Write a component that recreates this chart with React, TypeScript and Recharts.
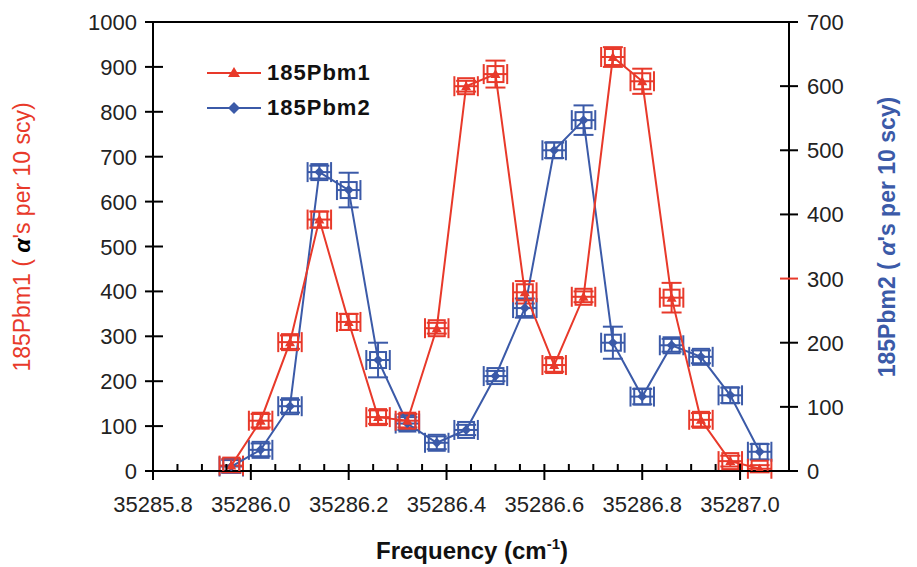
import React from "react";
import {
  ScatterChart,
  Scatter,
  XAxis,
  YAxis,
  ErrorBar,
  ReferenceLine,
  Legend,
} from "recharts";

// ---- data ----
const frequencies = [
  35285.96, 35286.02, 35286.08, 35286.14, 35286.2, 35286.26, 35286.32, 35286.38,
  35286.44, 35286.5, 35286.56, 35286.62, 35286.68, 35286.74, 35286.8, 35286.86,
  35286.92, 35286.98, 35287.04,
];
const pbm1Counts = [12, 112, 287, 560, 332, 120, 112, 318, 857, 884, 398, 236, 388, 922, 868, 386, 114, 22, 5];
const pbm1Errors = [15, 15, 15, 18, 18, 15, 15, 12, 12, 30, 25, 15, 12, 22, 28, 33, 15, 12, 8];
const pbm2Counts = [7, 33, 101, 466, 438, 173, 74, 44, 64, 148, 254, 500, 547, 200, 116, 196, 178, 118, 30];
const pbm2Errors = [10, 10, 10, 10, 27, 27, 10, 10, 8, 8, 15, 12, 23, 25, 12, 10, 10, 12, 12];
const freqErrors = [
  0.024, 0.024, 0.024, 0.024, 0.024, 0.024, 0.024, 0.024, 0.024, 0.024, 0.024, 0.024,
  0.024, 0.024, 0.024, 0.024, 0.024, 0.024, 0.024,
];

const xMajorTicks = [35285.8, 35286.0, 35286.2, 35286.4, 35286.6, 35286.8, 35287.0];
const xTickLabels = ["35285.8", "35286.0", "35286.2", "35286.4", "35286.6", "35286.8", "35287.0"];
const xMinorTicks = [
  35285.85, 35285.9, 35285.95, 35286.05, 35286.1, 35286.15, 35286.25, 35286.3, 35286.35,
  35286.45, 35286.5, 35286.55, 35286.65, 35286.7, 35286.75, 35286.85, 35286.9, 35286.95,
];
const leftTicks = [0, 100, 200, 300, 400, 500, 600, 700, 800, 900, 1000];
const rightTicks = [0, 100, 200, 300, 400, 500, 600, 700];

const seriesNames = ["185Pbm1", "185Pbm2"];

const RED = "#e8392a";
const BLUE = "#3b5aa8";
const TEXT = "#222222";
const FONT = "'Liberation Sans', Arial, sans-serif";

const pbm1Data = frequencies.map((x, i) => ({ x, y: pbm1Counts[i], ey: pbm1Errors[i], ex: freqErrors[i] }));
const pbm2Data = frequencies.map((x, i) => ({ x, y: pbm2Counts[i], ey: pbm2Errors[i], ex: freqErrors[i] }));
const xTicks = [...xMajorTicks, ...xMinorTicks].sort((a, b) => a - b);

// ---- shapes ----
const RedMarker = (props: any) => {
  const { cx, cy } = props;
  if (cx == null || cy == null) return null;
  return (
    <g>
      <rect x={cx - 8} y={cy - 8} width={16} height={16} fill="none" stroke={RED} strokeWidth={2} />
      <polygon points={`${cx},${cy - 5} ${cx + 5},${cy + 4} ${cx - 5},${cy + 4}`} fill={RED} />
    </g>
  );
};

const BlueMarker = (props: any) => {
  const { cx, cy } = props;
  if (cx == null || cy == null) return null;
  return (
    <g>
      <rect x={cx - 8} y={cy - 8} width={16} height={16} fill="none" stroke={BLUE} strokeWidth={2} />
      <polygon points={`${cx},${cy - 5} ${cx + 5},${cy} ${cx},${cy + 5} ${cx - 5},${cy}`} fill={BLUE} />
    </g>
  );
};

const XTick = (props: any) => {
  const { x, y, payload } = props;
  const v = payload.value;
  const idx = xMajorTicks.findIndex((t) => Math.abs(t - v) < 1e-6);
  if (idx < 0) {
    return <line x1={x} x2={x} y1={y - 7} y2={y} stroke="#000" strokeWidth={2} />;
  }
  return (
    <g>
      <line x1={x} x2={x} y1={y - 7} y2={y + 9} stroke="#000" strokeWidth={2} />
      <text x={x} y={y + 41} textAnchor="middle" fontSize={22} fill={TEXT} fontFamily={FONT}>
        {xTickLabels[idx]}
      </text>
    </g>
  );
};

const LeftTick = (props: any) => {
  const { x, y, payload } = props;
  return (
    <g>
      <line x1={x - 8} x2={x + 10} y1={y} y2={y} stroke="#000" strokeWidth={2} />
      <text x={x - 16} y={y + 8} textAnchor="end" fontSize={22} fill={TEXT} fontFamily={FONT}>
        {payload.value}
      </text>
    </g>
  );
};

const RightTick = (props: any) => {
  const { x, y, payload } = props;
  const accent = payload.value === 300;
  return (
    <g>
      <line x1={x - 9} x2={x + 9} y1={y} y2={y} stroke={accent ? RED : "#000"} strokeWidth={2} />
      <text x={x + 18} y={y + 8} textAnchor="start" fontSize={22} fill={TEXT} fontFamily={FONT}>
        {payload.value}
      </text>
    </g>
  );
};

const LeftTitle = () => (
  <text
    transform="translate(30,237) rotate(-90)"
    textAnchor="middle"
    fontSize={23}
    fontFamily={FONT}
    fill={RED}
  >
    <tspan>185Pbm1 ( </tspan>
    <tspan fill="#000" fontWeight="bold" fontStyle="italic">α</tspan>
    <tspan>'s per 10 scy)</tspan>
  </text>
);

const RightTitle = () => (
  <text
    transform="translate(895,237) rotate(-90)"
    textAnchor="middle"
    fontSize={23}
    fontFamily={FONT}
    fill={BLUE}
    fontWeight="bold"
  >
    <tspan>185Pbm2 ( </tspan>
    <tspan fontStyle="italic">α</tspan>
    <tspan>'s per 10 scy)</tspan>
  </text>
);

const XTitle = () => (
  <text x={472} y={559} textAnchor="middle" fontSize={24} fontWeight="bold" fontFamily={FONT} fill="#111">
    <tspan>Frequency (cm</tspan>
    <tspan dy={-10} fontSize={15}>-1</tspan>
    <tspan dy={10}>)</tspan>
  </text>
);

const LegendContent = () => {
  const rows = [
    { name: seriesNames[0], color: RED, marker: "triangle" },
    { name: seriesNames[1], color: BLUE, marker: "diamond" },
  ];
  return (
    <div style={{ fontFamily: FONT }}>
      {rows.map((r) => (
        <div key={r.name} style={{ display: "flex", alignItems: "center", height: 35 }}>
          <svg width={58} height={20}>
            <line x1={2} x2={56} y1={10} y2={10} stroke={r.color} strokeWidth={2} />
            {r.marker === "triangle" ? (
              <polygon points="29,4 35,14 23,14" fill={r.color} />
            ) : (
              <polygon points="29,4 35,10 29,16 23,10" fill={r.color} />
            )}
          </svg>
          <span style={{ fontSize: 22, fontWeight: "bold", color: "#111", marginLeft: 4, letterSpacing: 1 }}>
            {r.name}
          </span>
        </div>
      ))}
    </div>
  );
};

export default function App() {
  return (
    <div style={{ position: "absolute", left: 0, top: 0, width: 917, height: 567, background: "#fff" }}>
      <ScatterChart width={917} height={567} margin={{ top: 22, right: 48, bottom: 46, left: 73 }}>
        <XAxis
          type="number"
          dataKey="x"
          domain={[35285.8, 35287.1]}
          ticks={xTicks}
          interval={0}
          allowDataOverflow
          height={50}
          tickSize={0}
          tickMargin={0}
          tickLine={false}
          axisLine={{ stroke: "#000", strokeWidth: 2 }}
          tick={<XTick />}
          label={<XTitle />}
        />
        <YAxis
          yAxisId="left"
          type="number"
          dataKey="y"
          domain={[0, 1000]}
          ticks={leftTicks}
          interval={0}
          allowDataOverflow
          width={80}
          tickSize={0}
          tickMargin={0}
          tickLine={false}
          axisLine={{ stroke: "#000", strokeWidth: 2 }}
          tick={<LeftTick />}
          label={<LeftTitle />}
        />
        <YAxis
          yAxisId="right"
          orientation="right"
          type="number"
          dataKey="y"
          domain={[0, 700]}
          ticks={rightTicks}
          interval={0}
          allowDataOverflow
          width={80}
          tickSize={0}
          tickMargin={0}
          tickLine={false}
          axisLine={{ stroke: "#000", strokeWidth: 2 }}
          tick={<RightTick />}
          label={<RightTitle />}
        />
        <ReferenceLine yAxisId="left" y={1000} stroke="#000" strokeWidth={2} ifOverflow="extendDomain" />
        <Legend
          layout="vertical"
          align="center"
          verticalAlign="middle"
          content={<LegendContent />}
          wrapperStyle={{ top: 55, left: 205, width: 200 }}
        />
        <Scatter
          name={seriesNames[1]}
          data={pbm2Data}
          yAxisId="right"
          fill={BLUE}
          line={{ stroke: BLUE, strokeWidth: 2 }}
          lineType="joint"
          shape={<BlueMarker />}
          isAnimationActive={false}
        >
          <ErrorBar dataKey="ey" direction="y" width={10} stroke={BLUE} strokeWidth={2} isAnimationActive={false} />
          <ErrorBar dataKey="ex" direction="x" width={10} stroke={BLUE} strokeWidth={2} isAnimationActive={false} />
        </Scatter>
        <Scatter
          name={seriesNames[0]}
          data={pbm1Data}
          yAxisId="left"
          fill={RED}
          line={{ stroke: RED, strokeWidth: 2 }}
          lineType="joint"
          shape={<RedMarker />}
          isAnimationActive={false}
        >
          <ErrorBar dataKey="ey" direction="y" width={10} stroke={RED} strokeWidth={2} isAnimationActive={false} />
          <ErrorBar dataKey="ex" direction="x" width={10} stroke={RED} strokeWidth={2} isAnimationActive={false} />
        </Scatter>
      </ScatterChart>
    </div>
  );
}
